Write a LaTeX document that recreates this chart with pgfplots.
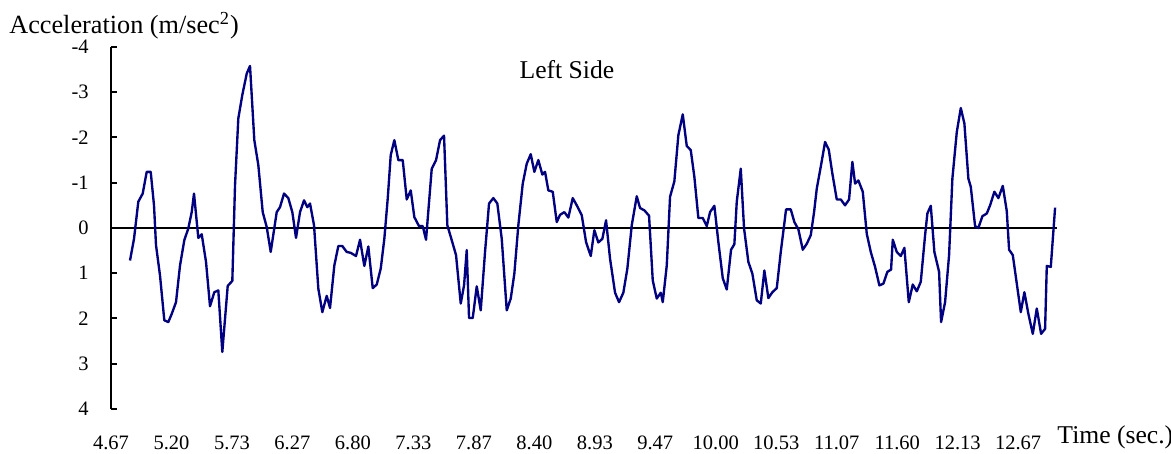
\documentclass[border=0pt]{standalone}
\usepackage{fontspec}
\setmainfont{Liberation Serif}
\usepackage{pgfplots}
\usepackage{pgfplotstable}
\pgfplotsset{compat=1.18}
\definecolor{navyline}{RGB}{0,0,128}

\pgfplotstableread{
px v
130 0.72
134 0.24
138.3 -0.58
142.7 -0.76
146.7 -1.24
150.7 -1.24
154 -0.50
156 0.38
160 1.05
164.3 2.04
168.3 2.08
171.7 1.90
176 1.64
180 0.83
184.3 0.27
188.3 0.01
191.7 -0.35
194 -0.76
198.3 0.22
201.7 0.14
206 0.75
210 1.73
214.3 1.42
218.3 1.38
222.3 2.74
227.7 1.28
232.3 1.17
235 -0.94
238.3 -2.42
242.3 -2.94
246.7 -3.41
250 -3.58
254.3 -1.94
258.3 -1.39
262.7 -0.35
266.7 -0.02
270.7 0.53
276.7 -0.35
280 -0.46
284 -0.76
288.3 -0.66
292.3 -0.35
296 0.22
300 -0.35
304 -0.61
307.3 -0.46
310 -0.54
314 -0.06
318.3 1.34
322.3 1.86
326.7 1.50
330 1.77
334.3 0.83
338.3 0.40
342.3 0.40
346.7 0.53
350.7 0.55
356 0.62
360 0.26
364.3 0.84
368.3 0.41
372.7 1.33
376.7 1.25
380.7 0.90
384.3 0.24
387.7 -0.65
390.7 -1.61
394.3 -1.94
398.3 -1.50
402.7 -1.50
406.7 -0.63
410.7 -0.83
414.3 -0.24
419 -0.04
422.7 -0.04
426 0.26
431.7 -1.31
436 -1.50
440 -1.94
444 -2.04
447.3 -0.06
451.7 0.27
456 0.60
460.7 1.67
464 1.27
466.7 0.49
469 1.99
472.7 1.99
476.7 1.29
480.7 1.82
485 0.53
489 -0.54
493.3 -0.66
497.3 -0.54
501.7 0.24
506.7 1.82
510.7 1.56
514.3 1.01
518.3 -0.06
522.7 -0.98
526.7 -1.42
530.7 -1.63
534.3 -1.24
538.3 -1.50
542.3 -1.18
545 -1.24
548.3 -0.83
552.7 -0.80
556.7 -0.13
560 -0.29
564.3 -0.35
568.3 -0.23
572.7 -0.66
577.7 -0.46
581.7 -0.28
586 0.31
590.7 0.62
594.3 0.05
598.3 0.32
602.3 0.24
606 -0.17
610 0.68
615 1.43
619 1.64
623.3 1.43
627.3 0.90
631.7 -0.06
636.7 -0.70
640 -0.44
644.3 -0.39
649 -0.27
652.7 1.16
656.7 1.56
660.7 1.43
662.7 1.64
666.7 0.83
670 -0.69
674.3 -1.03
678.3 -2.05
682.7 -2.51
686.7 -1.81
690.7 -1.72
694.3 -1.13
698.3 -0.22
702.7 -0.22
706.7 -0.04
710 -0.35
714.3 -0.49
718.3 0.31
722.7 1.11
726.7 1.36
731 0.48
734.3 0.36
736.7 -0.58
740.7 -1.31
744 0.01
748.3 0.75
752.3 1.01
756.7 1.60
760.7 1.67
764.3 0.94
768.3 1.55
772.3 1.42
776.7 1.33
780.7 0.53
786 -0.41
790.7 -0.41
794.3 -0.13
798.3 0.03
802.7 0.48
806.7 0.35
810.7 0.16
814 -0.35
816.7 -0.87
821 -1.39
825 -1.90
828.7 -1.73
832.3 -1.20
836.7 -0.63
840.7 -0.63
845 -0.50
849 -0.63
852.3 -1.46
855 -0.98
858.3 -1.05
862.7 -0.80
866.7 0.13
870.7 0.53
875 0.86
879.3 1.27
883.3 1.23
887.3 0.97
891 0.92
892.7 0.26
896.7 0.53
900.7 0.62
904.3 0.44
908.7 1.64
912.7 1.25
916.7 1.40
920.7 1.19
925 0.16
927.3 -0.32
930.7 -0.49
934.3 0.53
939 0.97
941 2.08
945 1.64
949 0.60
952.3 -1.09
956.7 -2.12
960.7 -2.65
964.3 -2.31
968.3 -1.09
970.7 -0.91
975 -0.04
978.3 0.00
982.3 -0.26
986.7 -0.32
990 -0.50
994.3 -0.80
998.3 -0.66
1002.7 -0.93
1006.7 -0.37
1009 0.48
1012.7 0.60
1016.7 1.23
1020.7 1.86
1024.3 1.42
1028.3 1.90
1032.7 2.34
1036.7 1.78
1041 2.34
1045 2.23
1046.7 0.84
1050.7 0.86
1055 -0.45
}\accel

\begin{document}
\begin{tikzpicture}
\begin{axis}[
  at={(0pt,0pt)}, anchor=south west,
  scale only axis,
  width=461.5pt, height=176.6pt,
  xmin=4.67, xmax=13.0135,
  ymin=-4, ymax=4,
  y dir=reverse,
  axis y line*=left,
  axis x line*=bottom,
  x axis line style={draw=none},
  y axis line style={black, line width=1pt, -},
  xtick={4.67,5.20333,5.73667,6.27,6.80333,7.33667,7.87,8.40333,8.93667,9.47,10.00333,10.53667,11.07,11.60333,12.13667,12.67},
  xticklabels={4.67,5.20,5.73,6.27,6.80,7.33,7.87,8.40,8.93,9.47,10.00,10.53,11.07,11.60,12.13,12.67},
  ytick={-4,-3,-2,-1,0,1,2,3,4},
  yticklabels={-4,-3,-2,-1,0,1,2,3,4},
  x tick style={draw=none},
  y tick style={black, line width=1pt},
  tick align=inside,
  major tick length=3pt,
  xticklabel style={font=\fontsize{10}{12}\selectfont, anchor=base, yshift=-19.8pt},
  yticklabel style={font=\fontsize{10}{12}\selectfont, anchor=east, xshift=-7.4pt},
  clip=true,
]
\draw[black, line width=1.2pt] (rel axis cs:0,0.5) -- (rel axis cs:1,0.5);
\addplot[navyline, line width=1.15pt, mark=none, line join=round]
  table[x expr={4.67+(\thisrow{px}-111)*0.0088198}, y=v] {\accel};
\end{axis}
\node[anchor=base west, inner sep=0pt, font=\fontsize{12.5}{14}\selectfont] at (461.5pt,-17.0pt) {Time (sec.)};
\node[anchor=base west, inner sep=0pt, font=\fontsize{12.8}{14}\selectfont] at (-49.8pt,183.2pt) {Acceleration (m/sec\textsuperscript{2})};
\node[anchor=base, inner sep=0pt, font=\fontsize{12.5}{14}\selectfont] at (222.4pt,161.3pt) {Left Side};
\pgfresetboundingbox
\useasboundingbox (-54.15pt,-21.95pt) rectangle (517.07pt,199.5pt);
\end{tikzpicture}
\end{document}
